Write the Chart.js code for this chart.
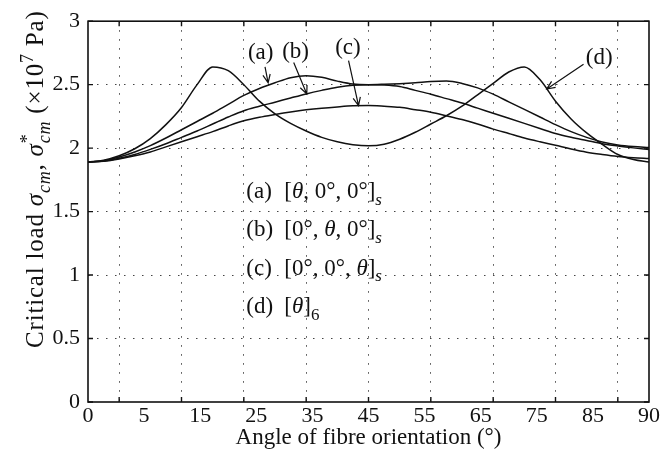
<!DOCTYPE html>
<html>
<head>
<meta charset="utf-8">
<script src="https://cdn.jsdelivr.net/npm/chart.js@4.4.1/dist/chart.umd.min.js"></script>
<style>
  html, body { margin: 0; padding: 0; background: #fff; }
  #wrap { width: 661px; height: 465px; position: relative; }
</style>
</head>
<body>
<div id="wrap"><canvas id="chart"></canvas></div>
<script>
// Critical load vs fibre angle, four lay-ups (values in 1e7 Pa)
const angles = [0, 2.5, 5, 7.5, 10, 12.5, 15, 17.5, 20, 22.5, 25, 27.5, 30, 32.5, 35, 37.5, 40, 42.5, 45,
  47.5, 50, 52.5, 55, 57.5, 60, 62.5, 65, 67.5, 70, 72.5, 75, 77.5, 80, 82.5, 85, 87.5, 90];

// (a) [θ,0,0]s
const loadA = [1.89, 1.90, 1.93, 1.97, 2.02, 2.08, 2.145, 2.21, 2.275, 2.345, 2.415, 2.47, 2.515, 2.555, 2.571, 2.558, 2.528, 2.505, 2.50,
  2.503, 2.508, 2.515, 2.525, 2.528, 2.51, 2.475, 2.425, 2.365, 2.305, 2.245, 2.185, 2.13, 2.085, 2.048, 2.025, 2.012, 2.005];
// (b) [0,θ,0]s
const loadB = [1.89, 1.898, 1.92, 1.95, 1.99, 2.035, 2.085, 2.135, 2.19, 2.245, 2.295, 2.33, 2.362, 2.395, 2.427, 2.455, 2.48, 2.496, 2.50,
  2.497, 2.485, 2.455, 2.425, 2.39, 2.355, 2.315, 2.275, 2.235, 2.195, 2.155, 2.115, 2.085, 2.06, 2.035, 2.017, 2.002, 1.99];
// (c) [0,0,θ]s
const loadC = [1.89, 1.897, 1.915, 1.94, 1.97, 2.01, 2.05, 2.09, 2.13, 2.175, 2.215, 2.243, 2.265, 2.285, 2.302, 2.315, 2.325, 2.333, 2.335,
  2.33, 2.322, 2.303, 2.283, 2.255, 2.225, 2.19, 2.15, 2.115, 2.08, 2.05, 2.022, 1.993, 1.968, 1.95, 1.935, 1.925, 1.918];
// (d) [θ]6
const loadD = [1.89, 1.905, 1.94, 1.995, 2.075, 2.185, 2.32, 2.50, 2.64, 2.61, 2.50, 2.37, 2.27, 2.195, 2.135, 2.085, 2.05, 2.027, 2.018,
  2.03, 2.07, 2.125, 2.19, 2.255, 2.33, 2.42, 2.51, 2.60, 2.64, 2.54, 2.37, 2.23, 2.12, 2.03, 1.95, 1.91, 1.89];

const xTickLabels = ['0', '5', '15', '25', '35', '45', '55', '65', '75', '85', '90'];
const xGridTicks = [5, 15, 25, 35, 45, 55, 65, 75, 85];
const curveNames = ['(a)', '(b)', '(c)', '(d)'];

// call-out arrows, in data units: [angle, load]
const ARROWS = [
  { label: [27.7, 2.75], from: [28.4, 2.64], to: [28.9, 2.515] },
  { label: [33.3, 2.76], from: [33.0, 2.675], to: [35.1, 2.427] },
  { label: [41.7, 2.79], from: [41.8, 2.69], to: [43.4, 2.335] },
  { label: [82.0, 2.71], from: [79.5, 2.66], to: [73.6, 2.466] },
];
const LEGEND_ROWS = [1.665, 1.365, 1.06, 0.76];
const LEGEND_X = 25.4;
const FORMULA_X = 31.5;

const SERIF = '"Liberation Serif", "Times New Roman", serif';
const INK = '#111';
const GRID = '#444';
const TICK_LEN = 5;

// rich text pieces: it = italic, sub/sup = script, stack = no advance
const yTitle = [
  { t: 'Critical load ' }, { t: 'σ', it: true }, { t: 'cm', it: true, sub: true }, { t: ', ' },
  { t: 'σ', it: true }, { t: '*', sup: true, stack: true }, { t: 'cm', it: true, sub: true },
  { t: ' (×10' }, { t: '7', sup: true }, { t: ' Pa)' },
];
const legendFormulas = [
  [{ t: '[' }, { t: 'θ', it: true }, { t: ', 0°, 0°]' }, { t: 's', it: true, sub: true }],
  [{ t: '[0°, ' }, { t: 'θ', it: true }, { t: ', 0°]' }, { t: 's', it: true, sub: true }],
  [{ t: '[0°, 0°, ' }, { t: 'θ', it: true }, { t: ']' }, { t: 's', it: true, sub: true }],
  [{ t: '[' }, { t: 'θ', it: true }, { t: ']' }, { t: '6', sub: true }],
];

function segFont(s, size) {
  const sz = (s.sub || s.sup) ? Math.round(size * 0.72) : size;
  return (s.it ? 'italic ' : '') + sz + 'px ' + SERIF;
}
function richWidth(ctx, segs, size) {
  let w = 0;
  segs.forEach(s => { ctx.font = segFont(s, size); if (!s.stack) w += ctx.measureText(s.t).width; });
  return w;
}
function drawRich(ctx, segs, x, base, size) {
  ctx.textAlign = 'left';
  ctx.textBaseline = 'alphabetic';
  segs.forEach(s => {
    ctx.font = segFont(s, size);
    const dy = s.sub ? size * 0.28 : s.sup ? -size * 0.42 : 0;
    ctx.fillText(s.t, x, base + dy);
    if (!s.stack) x += ctx.measureText(s.t).width;
  });
}
function toPx(chart, p) {
  return [chart.scales.x.getPixelForValue(p[0]), chart.scales.y.getPixelForValue(p[1])];
}
function drawArrow(ctx, x1, y1, x2, y2) {
  const ang = Math.atan2(y2 - y1, x2 - x1);
  const L = 9, w = 0.42;
  ctx.beginPath();
  ctx.moveTo(x1, y1); ctx.lineTo(x2, y2);
  ctx.moveTo(x2 - L * Math.cos(ang - w), y2 - L * Math.sin(ang - w));
  ctx.lineTo(x2, y2);
  ctx.lineTo(x2 - L * Math.cos(ang + w), y2 - L * Math.sin(ang + w));
  ctx.stroke();
}

const decorPlugin = {
  id: 'decor',
  afterDatasetsDraw(chart) {
    const { ctx, chartArea: ca } = chart;
    const { x, y } = chart.scales;
    ctx.save();
    ctx.strokeStyle = INK;
    ctx.fillStyle = INK;

    // inward tick marks on all four sides
    ctx.lineWidth = 1.4;
    ctx.beginPath();
    xGridTicks.forEach(v => {
      const px = x.getPixelForValue(v);
      ctx.moveTo(px, ca.bottom); ctx.lineTo(px, ca.bottom - TICK_LEN);
      ctx.moveTo(px, ca.top); ctx.lineTo(px, ca.top + TICK_LEN);
    });
    y.ticks.forEach(t => {
      const py = y.getPixelForValue(t.value);
      ctx.moveTo(ca.left, py); ctx.lineTo(ca.left + TICK_LEN, py);
      ctx.moveTo(ca.right, py); ctx.lineTo(ca.right - TICK_LEN, py);
    });
    ctx.stroke();
    ctx.lineWidth = 1.6;
    ctx.strokeRect(ca.left, ca.top, ca.width, ca.height);

    // call-outs
    const size = 23;
    ctx.lineWidth = 1.2;
    ARROWS.forEach((a, i) => {
      const [fx, fy] = toPx(chart, a.from);
      const [tx, ty] = toPx(chart, a.to);
      drawArrow(ctx, fx, fy, tx, ty);
      const [lx, ly] = toPx(chart, a.label);
      ctx.font = size + 'px ' + SERIF;
      ctx.textAlign = 'center';
      ctx.textBaseline = 'middle';
      ctx.fillText(curveNames[i], lx, ly);
    });

    // in-plot legend
    LEGEND_ROWS.forEach((v, i) => {
      const py = y.getPixelForValue(v) + size * 0.33;
      drawRich(ctx, [{ t: curveNames[i] }], x.getPixelForValue(LEGEND_X), py, size);
      drawRich(ctx, legendFormulas[i], x.getPixelForValue(FORMULA_X), py, size);
    });
    ctx.restore();
  },
  afterDraw(chart) {
    const { ctx, chartArea: ca } = chart;
    const size = 25;
    ctx.save();
    ctx.fillStyle = INK;
    ctx.letterSpacing = '0.8px';
    const w = richWidth(ctx, yTitle, size);
    ctx.translate(ca.left - 53, ca.top + 158);
    ctx.rotate(-Math.PI / 2);
    drawRich(ctx, yTitle, -w / 2, size * 0.33, size);
    ctx.restore();
  },
};

function curve(values) {
  return {
    data: angles.map((a, i) => ({ x: a, y: values[i] })),
    borderColor: INK,
    borderWidth: 1.5,
    pointRadius: 0,
    fill: false,
    cubicInterpolationMode: 'monotone',
  };
}

new Chart(document.getElementById('chart'), {
  type: 'line',
  data: { datasets: [curve(loadA), curve(loadB), curve(loadC), curve(loadD)] },
  plugins: [decorPlugin],
  options: {
    responsive: true,
    maintainAspectRatio: false,
    animation: false,
    layout: { padding: { top: 20, right: 12, left: 0, bottom: 0 } },
    plugins: { legend: { display: false }, tooltip: { enabled: false } },
    scales: {
      x: {
        type: 'linear', min: 0, max: 90,
        afterBuildTicks: s => { s.ticks = xGridTicks.map(v => ({ value: v })); },
        afterFit: s => { s.height = 0; },
        ticks: { display: false },
        grid: { color: GRID, lineWidth: 1, drawTicks: false },
        border: { display: false, dash: [1.5, 7.5] },
      },
      x2: {
        type: 'linear', position: 'bottom', weight: 1, min: 0, max: 90,
        afterFit: s => { s.height = 63; },
        ticks: {
          stepSize: 9, padding: 1, color: INK, maxRotation: 0, autoSkip: false,
          font: { family: SERIF, size: 22 },
          callback: (v, i) => xTickLabels[i],
        },
        grid: { display: false, drawTicks: false },
        border: { display: false },
        title: {
          display: true, text: 'Angle of fibre orientation (°)', color: INK,
          font: { family: SERIF, size: 23 }, padding: { top: 0, bottom: 13 },
        },
      },
      y: {
        type: 'linear', min: 0, max: 3,
        afterFit: s => { s.width = 88; },
        ticks: {
          stepSize: 0.5, padding: 8, color: INK, font: { family: SERIF, size: 22 },
          callback: v => String(v),
        },
        grid: {
          drawTicks: false, lineWidth: 1,
          color: c => (c.tick.value === 0 || c.tick.value === 3) ? 'rgba(0,0,0,0)' : GRID,
        },
        border: { display: false, dash: [1.5, 7.5] },
      },
    },
  },
});
</script>
</body>
</html>
